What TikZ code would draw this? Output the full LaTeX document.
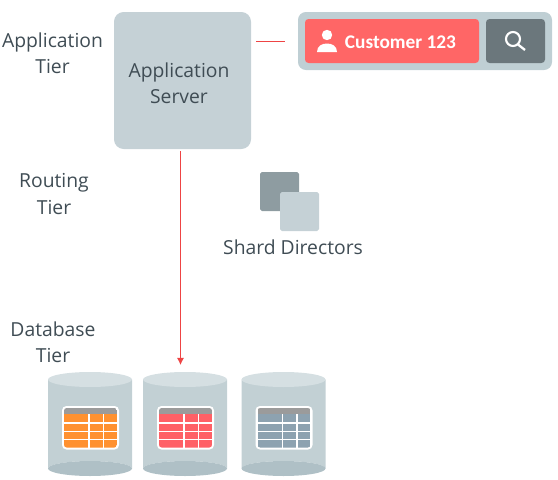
\documentclass[tikz,border=0pt]{standalone}
\usepackage{fontspec}
\setmainfont{Open Sans}
\newfontfamily\btnfont{Carlito}
\usetikzlibrary{arrows.meta}
\definecolor{srvgrey}{HTML}{C5D1D6}
\definecolor{bargrey}{HTML}{BFCFD4}
\definecolor{dirgrey}{HTML}{8E9CA1}
\definecolor{btndark}{HTML}{6B777C}
\definecolor{btnred}{HTML}{FF6666}
\definecolor{cyltop}{HTML}{D5DFE2}
\definecolor{cylbody}{HTML}{C2D0D4}
\definecolor{cylbase}{HTML}{AFC0C6}
\definecolor{txtgrey}{HTML}{3F4C54}
\definecolor{tblorange}{HTML}{FF9130}
\definecolor{tblred}{HTML}{FF6066}
\definecolor{tblslate}{HTML}{8DA2B0}
\definecolor{tblhead}{HTML}{9B9B9B}
\definecolor{linkred}{HTML}{EE4444}
\tikzset{
  tierlabel/.style={text=txtgrey,align=center,font=\fontsize{11}{14.8}\selectfont},
  redlink/.style={linkred,line width=0.55pt},
  tblrule/.style={white,line width=0.7pt},
}
% one database cylinder, its table in colour #1
\newcommand{\dbcylinder}[1]{
    \fill[cylbody] (0,7.5) -- (84,7.5) -- (84,96.5) arc [start angle=0, end angle=-180, x radius=42, y radius=7.5] -- cycle;
    \fill[cylbase] (42,96.5) ellipse [x radius=42, y radius=7.5];
    \fill[cyltop] (42,7.5) ellipse [x radius=42, y radius=7.5];
    \fill[white,rounded corners=2.5pt] (14,34) rectangle (71,77.5);
    \begin{scope}
    \clip[rounded corners=1.5pt] (16,36) rectangle (69,75.5);
    \fill[#1] (16,42) rectangle (69,75.5);
    \fill[tblhead] (16,36) rectangle (69,41.5);
    \end{scope}
    \draw[tblrule] (41,42)--(41,75.5);
    \draw[tblrule] (55.5,42)--(55.5,75.5);
    \draw[tblrule] (16,51)--(69,51);
    \draw[tblrule] (16,59.5)--(69,59.5);
    \draw[tblrule] (16,67.5)--(69,67.5);
}
\begin{document}
\begin{tikzpicture}[x=0.02cm,y=-0.02cm]
    \useasboundingbox (0,0) rectangle (558,480);

    \node[tierlabel] (apptier) at (52.5,53) {Application\\Tier};
    \node[tierlabel] (routetier) at (54,194) {Routing\\Tier};
    \node[tierlabel] (dbtier) at (53,342) {Database\\Tier};

    \fill[srvgrey,rounded corners=5.5pt] (114,12) rectangle (251,149);
    \node[tierlabel] (appserver) at (179,83) {Application\\Server};
    \coordinate (srvbottom) at (180.5,151);
    \coordinate (dbarrow) at (180.5,365);
    \draw[redlink,-{Latex[length=4pt,width=4pt]}] (srvbottom) -- (dbarrow);

    \coordinate (linkleft) at (256,41);
    \coordinate (linkright) at (285,41);
    \draw[redlink,line width=0.45pt] (linkleft) -- (linkright);

    \fill[bargrey,rounded corners=4.5pt] (298,12) rectangle (552,70);
    \fill[btnred,rounded corners=2pt] (305,19) rectangle (479,63);
    \fill[btndark,rounded corners=2pt] (486,19) rectangle (545,63);
    \fill[white] (327,35) circle [radius=5.2];
    \fill[white] (317,52) .. controls (317,46) and (322,43.5) .. (327,43.5) .. controls (332,43.5) and (337,46) .. (337,52) -- cycle;
    \node[text=white,font=\btnfont\bfseries\fontsize{11}{14}\selectfont] (customer) at (400.5,42) {Customer 123};
    \draw[white,line width=1.2pt] (513,39) circle [radius=7];
    \draw[white,line width=1.3pt] (518,44.5)--(525,50);

    \fill[dirgrey,rounded corners=1pt] (260,172) rectangle (299,211);
    \fill[srvgrey,rounded corners=1pt] (280,192) rectangle (319,231);
    \node[tierlabel] (directors) at (293,247) {Shard Directors};

    \begin{scope}[shift={(48,372)}]
    \dbcylinder{tblorange}
    \end{scope}
    \begin{scope}[shift={(143,372)}]
    \dbcylinder{tblred}
    \end{scope}
    \begin{scope}[shift={(241.5,372)}]
    \dbcylinder{tblslate}
    \end{scope}
\end{tikzpicture}
\end{document}
